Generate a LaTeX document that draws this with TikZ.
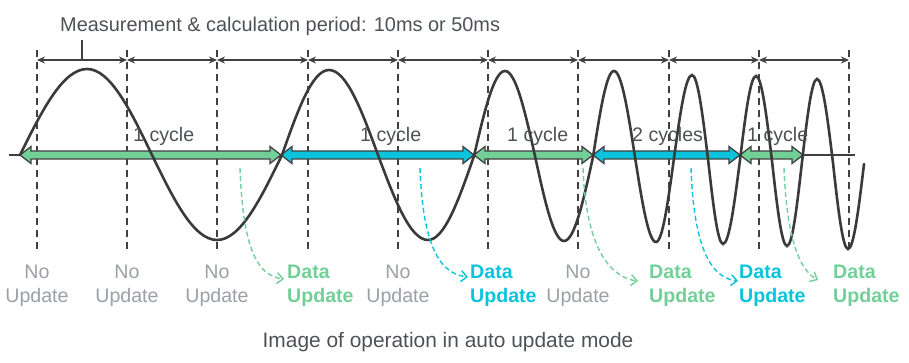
\documentclass[tikz,border=0pt]{standalone}
\usepackage{fontspec}
\setmainfont{Liberation Sans}
\usetikzlibrary{arrows.meta}

\definecolor{wavegray}{RGB}{58,58,58}
\definecolor{linegray}{RGB}{64,64,64}
\definecolor{textgray}{RGB}{77,82,87}
\definecolor{nogray}{RGB}{154,160,166}
\definecolor{updgreen}{RGB}{114,207,152}
\definecolor{updcyan}{RGB}{11,195,220}

\tikzset{
  tickline/.style={linegray, line width=2pt, dash pattern={on 7pt off 5pt}},
  period/.style={linegray, line width=1.6pt, {Stealth[length=8pt,width=7pt]}-{Stealth[length=8pt,width=7pt]}},
  cyclebar/.style={draw=linegray, line width=1.3pt, line join=miter},
  wave/.style={wavegray, line width=2.6pt, line cap=round},
  txt/.style={font=\fontsize{19.6}{24}\selectfont, text=textgray, inner sep=0pt},
  noupd/.style={txt, text=nogray, align=center, anchor=base},
  dataupd/.style={txt, font=\fontsize{19.6}{24}\selectfont\bfseries, align=left, anchor=base west},
  hop/.style={line width=1.4pt, dash pattern={on 5pt off 3pt}, -{Straight Barb[length=6pt,width=11pt]}},
}

% block arrow between two x positions on the axis
\newcommand\cyclearrow[3]{%
  \draw[cyclebar, fill=#3] (#1,155) -- ++(11,-8.5) -- ++(0,4.5) -- ({#2-11},151) -- ++(0,-4.5) -- (#2,155)
    -- ++(-11,8.5) -- ++(0,-4.5) -- ({#1+11},159) -- ++(0,4.5) -- cycle;}

\begin{document}
\begin{tikzpicture}[x=1pt,y=-1pt]
\useasboundingbox (0,0) rectangle (909,363);

% sampling instants
\foreach \x [count=\i from 0] in {37,127,217,308,398,488,578,669,759,849}{
  \coordinate (t\i) at (\x,50);
  \coordinate (b\i) at (\x,253);
  \coordinate (m\i) at (\x,60);
  \coordinate (l\i) at (\x,302);
}
\foreach \i in {0,...,9} \draw[tickline] (t\i) -- (b\i);
\foreach \i [count=\j from 1] in {0,...,8} \draw[period] (m\i) -- (m\j);

% Text Node
\node[txt, font=\fontsize{19.9}{24}\selectfont, anchor=base west] (title) at (60,32) {Measurement \& calculation period: 10ms or 50ms};
\coordinate (tick) at (82,40);
\draw[linegray, line width=1.6pt] (tick) -- (tick |- m0);

%Straight Lines (axis)
\draw[linegray, line width=1.8pt] (9,155) -- (855,155);

% cycles
\cyclearrow{20}{281}{updgreen}
\cyclearrow{281}{474}{updcyan}
\cyclearrow{474}{593}{updgreen}
\cyclearrow{593}{740}{updcyan}
\cyclearrow{740}{803}{updgreen}

% input signal
\draw[wave] (20,155) sin (87,69) cos (152,155) sin (217,240) cos (282,155)
  sin (329,70) cos (378,155) sin (428,240) cos (474,156)
  sin (505,71) cos (535,156) sin (564,241) cos (593,157)
  sin (614,71) cos (635,157) sin (656,242) cos (674,158)
  sin (692,75) cos (708,159) sin (723,244) cos (740,160)
  sin (756,76) cos (772,161) sin (787,246) cos (802,162)
  sin (817,79) cos (833,163) sin (848,249) cos (864,164);

% Text Node
\node[txt, anchor=base west] (c1) at (133,142) {1 cycle};
\node[txt, anchor=base west] (c2) at (360,142) {1 cycle};
\node[txt, anchor=base west] (c3) at (507,142) {1 cycle};
\node[txt, anchor=base west] (c4) at (632,142) {2 cycles};
\node[txt, anchor=base west] (c5) at (747,142) {1 cycle};

% Text Node
\foreach \i in {0,1,2,4,6} \node[noupd] (no\i) at (l\i) {No\\Update};
\node[dataupd, text=updgreen] (du1) at (287,302) {Data\\Update};
\node[dataupd, text=updcyan] (du2) at (470,302) {Data\\Update};
\node[dataupd, text=updgreen] (du3) at (649,302) {Data\\Update};
\node[dataupd, text=updcyan] (du4) at (739,302) {Data\\Update};
\node[dataupd, text=updgreen] (du5) at (833,302) {Data\\Update};

% update hops
\coordinate (src1) at (240,168);
\coordinate (src2) at (420,168);
\coordinate (src3) at (583,168);
\coordinate (src4) at (691,168);
\coordinate (src5) at (784,168);
\draw[hop, updgreen] (src1) .. controls +(3,85) and +(-25,-3) .. ([shift={(-3,-23)}]du1.base west);
\draw[hop, updcyan] (src2) .. controls +(3,85) and +(-25,-3) .. ([shift={(-2,-25)}]du2.base west);
\draw[hop, updgreen] (src3) .. controls +(3,85) and +(-25,-3) .. ([shift={(-11,-21)}]du3.base west);
\draw[hop, updcyan] (src4) .. controls +(3,85) and +(-25,-3) .. ([shift={(-1,-21)}]du4.base west);
\draw[hop, updgreen] (src5) .. controls +(3,80) and +(-15,-8) .. ([shift={(-15,-22)}]du5.base west);

% Text Node
\node[txt, font=\fontsize{20.9}{24}\selectfont, anchor=base] (caption) at (448,347) {Image of operation in auto update mode};

\end{tikzpicture}
\end{document}
